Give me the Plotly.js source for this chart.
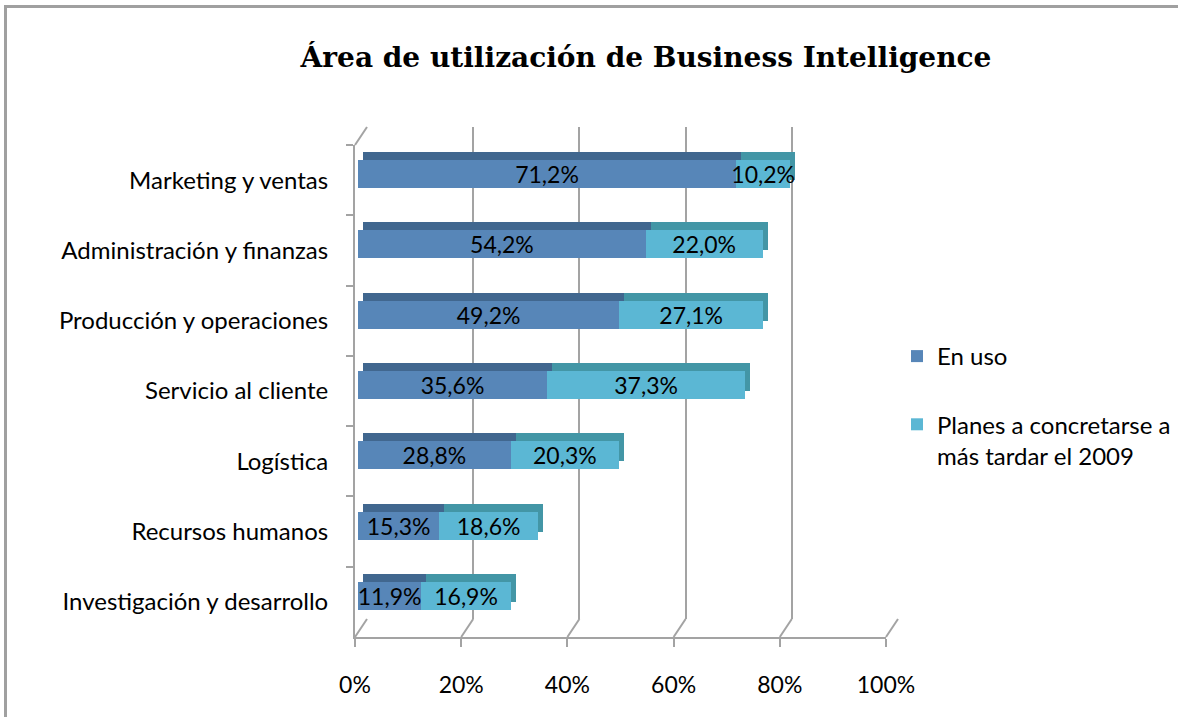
<!DOCTYPE html>
<html>
<head>
<meta charset="utf-8">
<script src="https://cdn.plot.ly/plotly-3.0.1.min.js"></script>
<style>
  html, body { margin: 0; padding: 0; background: #fff; }
  #wrap { position: relative; width: 1178px; height: 717px; }
  #chart { position: absolute; left: 0; top: 0; width: 1178px; height: 717px; }
  #frame { position: absolute; left: 4px; top: 5px; right: 0; bottom: 0;
           border-left: 3px solid #a0a0a0; border-top: 3px solid #a0a0a0; pointer-events: none; }
</style>
</head>
<body>
<div id="wrap"><div id="chart"></div><div id="frame"></div></div>
<script>
// ---- data ----
const categories = ['Marketing y ventas', 'Administración y finanzas', 'Producción y operaciones',
  'Servicio al cliente', 'Logística', 'Recursos humanos', 'Investigación y desarrollo'];
const enUso  = [71.2, 54.2, 49.2, 35.6, 28.8, 15.3, 11.9];
const planes = [10.2, 22.0, 27.1, 37.3, 20.3, 18.6, 16.9];
const seriesNames = ['En uso', 'Planes a concretarse a<br>más tardar el 2009'];
const xTicks = [0, 20, 40, 60, 80, 100];
const xTickLabels = ['0%', '20%', '40%', '60%', '80%', '100%'];
const chartTitle = 'Área de utilización de Business Intelligence';

// ---- geometry (pixels) ----
const W = 1178, H = 717;
const FX = 355, FTOP = 145, FBOT = 637, PW = 531;   // front plane
const OFF = { face: [3, -6], shadow: [8, -14], back: [12, -18] };
const px = v => v / W;
const py = v => 1 - v / H;
const dom = o => ({ x: [px(FX + o[0]), px(FX + o[0] + PW)], y: [py(FBOT + o[1]), py(FTOP + o[1])] });

const font = 'Lato, "Open Sans", sans-serif';
const gray = '#a3a3a3';
const blue = '#5786b8', blueTop = '#41678f';
const aqua = '#5bb7d4', aquaTop = '#4396a6';

const hiddenX = (d) => ({ domain: d.x, range: [0, 100], showgrid: false, zeroline: false, showticklabels: false, showline: false, ticks: '' , fixedrange: true});
const hiddenY = (d) => ({ domain: d.y, type: 'category', categoryorder: 'array', categoryarray: categories,
  range: [categories.length - 0.5, -0.5], showgrid: false, zeroline: false, showticklabels: false, showline: false, ticks: '', fixedrange: true });

const dBack = dom(OFF.back), dShadow = dom(OFF.shadow), dFace = dom(OFF.face), dFront = dom([0, 0]);

const traces = [];
// back wall (gridlines only)
traces.push({ type: 'scatter', x: [], y: [], xaxis: 'x', yaxis: 'y', showlegend: false, hoverinfo: 'skip' });
// bar depth (top / side faces)
traces.push({ type: 'bar', orientation: 'h', y: categories, x: enUso, xaxis: 'x2', yaxis: 'y2',
  marker: { color: blueTop }, showlegend: false, hoverinfo: 'skip' });
traces.push({ type: 'bar', orientation: 'h', y: categories, x: planes, xaxis: 'x2', yaxis: 'y2',
  marker: { color: aquaTop }, showlegend: false, hoverinfo: 'skip' });
// front faces
const faceCommon = { type: 'bar', orientation: 'h', y: categories, xaxis: 'x3', yaxis: 'y3',
  texttemplate: '%{x:.1f}%', textposition: 'inside', insidetextanchor: 'middle', textangle: 0,
  constraintext: 'none', cliponaxis: false, textfont: { family: font, size: 23, color: '#000' } };
traces.push(Object.assign({}, faceCommon, { x: enUso, name: seriesNames[0], marker: { color: blue }, legendgroup: 'a' }));
traces.push(Object.assign({}, faceCommon, { x: planes, name: seriesNames[1], marker: { color: aqua }, legendgroup: 'b' }));
// front axes carrier
traces.push({ type: 'scatter', mode: 'markers', y: categories, x: enUso, xaxis: 'x4', yaxis: 'y4',
  marker: { opacity: 0 }, showlegend: false, hoverinfo: 'skip' });

const shapes = xTicks.map(v => ({ type: 'line', xref: 'paper', yref: 'paper',
  x0: px(FX + v * PW / 100), y0: py(FBOT), x1: px(FX + OFF.back[0] + v * PW / 100), y1: py(FBOT + OFF.back[1]),
  line: { color: gray, width: 2 } }));
shapes.push({ type: 'line', xref: 'paper', yref: 'paper', x0: px(FX), y0: py(FTOP), x1: px(FX + OFF.back[0]), y1: py(FTOP + OFF.back[1]),
  line: { color: gray, width: 2 } });

const layout = {
  width: W, height: H, margin: { l: 0, r: 0, t: 0, b: 0 },
  paper_bgcolor: 'rgba(0,0,0,0)', plot_bgcolor: 'rgba(0,0,0,0)',
  separators: ',.', barmode: 'stack', bargap: 0.6, hovermode: false, showlegend: true,
  font: { family: font, size: 23, color: '#000' },
  title: { text: '<b>' + chartTitle + '</b>', x: px(646), xanchor: 'center', y: py(57), yanchor: 'middle',
    yref: 'container', xref: 'container', font: { family: '"DejaVu Serif", "Liberation Serif", serif', size: 28, color: '#000' } },
  xaxis: Object.assign(hiddenX(dBack), { anchor: 'y', showgrid: true, tickvals: xTicks, gridcolor: gray, gridwidth: 2 }),
  yaxis: Object.assign(hiddenY(dBack), { anchor: 'x' }),
  xaxis2: Object.assign(hiddenX(dShadow), { anchor: 'y2' }),
  yaxis2: Object.assign(hiddenY(dShadow), { anchor: 'x2' }),
  xaxis3: Object.assign(hiddenX(dFace), { anchor: 'y3' }),
  yaxis3: Object.assign(hiddenY(dFace), { anchor: 'x3' }),
  xaxis4: { domain: dFront.x, anchor: 'y4', range: [0, 100], tickvals: xTicks, ticktext: xTickLabels,
    showgrid: false, zeroline: false, showline: true, linecolor: gray, linewidth: 2,
    ticks: 'outside', ticklen: 8, tickwidth: 2, tickcolor: gray, ticklabelstandoff: 18,
    tickfont: { family: font, size: 23, color: '#000' }, fixedrange: true },
  yaxis4: { domain: dFront.y, anchor: 'x4', type: 'category', categoryorder: 'array', categoryarray: categories,
    range: [categories.length - 0.5, -0.5], showgrid: false, zeroline: false, showline: true, linecolor: gray, linewidth: 2,
    ticks: 'outside', tickson: 'boundaries', ticklen: 7, tickwidth: 2, tickcolor: gray, ticklabelstandoff: 20,
    tickfont: { family: font, size: 24, color: '#000' }, fixedrange: true },
  legend: { x: px(897), xanchor: 'left', y: py(334), yanchor: 'top', traceorder: 'grouped', tracegroupgap: 34,
    valign: 'top', font: { family: font, size: 24, color: '#000' }, bgcolor: 'rgba(0,0,0,0)' },
  shapes: shapes
};

Plotly.newPlot('chart', traces, layout, { displayModeBar: false, staticPlot: true });
</script>
</body>
</html>
